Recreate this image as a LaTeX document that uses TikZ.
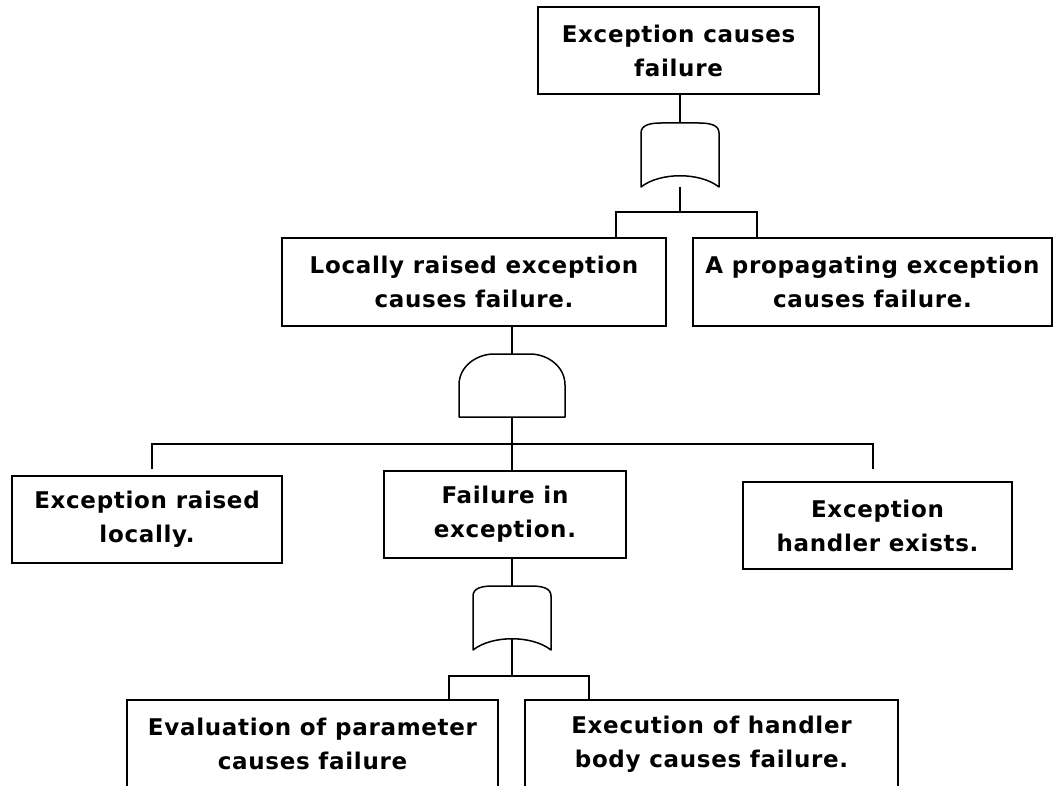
\documentclass[tikz,border=0pt]{standalone}
\usepackage{fontspec}
\setmainfont{DejaVu Sans}[LetterSpace=3]
\begin{document}
\begin{tikzpicture}[x=1pt,y=-1pt,
  box/.style={draw, line width=1.4pt, fill=white, align=center, inner sep=0pt,
              font=\fontsize{23}{34}\selectfont\bfseries},
  wire/.style={line width=1.4pt},
  gate/.style={draw, line width=1.5pt, fill=white, line join=round},
  orgate/.pic={
    \draw[gate] (-39,64) -- (-39,10) .. controls (-39,2) and (-30,0) .. (-19,0)
      -- (19,0) .. controls (30,0) and (39,2) .. (39,10) -- (39,64)
      .. controls (20,49) and (-20,49) .. (-39,64) -- cycle;
    \coordinate (-in) at (0,0);
    \coordinate (-out) at (0,53);
    \coordinate (-foot) at (0,64);
  },
  andgate/.pic={
    \draw[gate] (-53,63) -- (-53,31) .. controls (-53,12) and (-35,0) .. (-18,0)
      -- (18,0) .. controls (35,0) and (53,12) .. (53,31) -- (53,63) -- cycle;
    \coordinate (-in) at (0,0);
    \coordinate (-out) at (0,63);
  }]
\useasboundingbox[fill=white] (0,0) rectangle (1055,786);

% events
\node[box, minimum width=281pt, minimum height=87pt] (top) at (678.5,50.5) {Exception causes\\failure};
\node[box, minimum width=384pt, minimum height=88pt] (lr) at (474,282) {Locally raised exception\\causes failure.};
\node[box, minimum width=359pt, minimum height=88pt] (pr) at (872.5,282) {A propagating exception\\causes failure.};
\node[box, minimum width=270pt, minimum height=87pt] (rl) at (147,519.5) {Exception raised\\locally.};
\node[box, minimum width=242pt, minimum height=87pt] (fe) at (505,514.5) {Failure in\\exception.};
\node[box, minimum width=269pt, minimum height=87pt] (he) at (877.5,525.5) {Exception\\handler exists.};
\node[box, minimum width=371pt, minimum height=88pt] (ev) at (312.5,744) {Evaluation of parameter\\causes failure};
\node[box, minimum width=373pt, minimum height=88pt] (ex) at (711.5,744) {Execution of handler\\body causes failure.};

% gates
\pic (g1) at (680,123) {orgate};
\pic (g2) at (512,354) {andgate};
\pic (g3) at (512,586) {orgate};

% junctions
\coordinate (j0) at (680,212);
\coordinate (j1) at (616,212);
\coordinate (j2) at (757,212);
\coordinate (k0) at (512,444);
\coordinate (k1) at (152,444);
\coordinate (k2) at (873,444);
\coordinate (e1) at (152,469);
\coordinate (e3) at (873,469);
\coordinate (m0) at (512,676);
\coordinate (m1) at (449,676);
\coordinate (m2) at (589,676);

% connectors
\draw[wire] (g1-in |- top.south) -- (g1-in);
\draw[wire] (g1-foot) -- (j0);
\draw[wire] (lr.north -| j1) -- (j1) -- (j2) -- (pr.north -| j2);
\draw[wire] (g2-in |- lr.south) -- (g2-in);
\draw[wire] (g2-out) -- (k0);
\draw[wire] (e1) -- (k1) -- (k2) -- (e3);
\draw[wire] (k0) -- (fe.north -| k0);
\draw[wire] (g3-in |- fe.south) -- (g3-in);
\draw[wire] (g3-out) -- (m0);
\draw[wire] (ev.north -| m1) -- (m1) -- (m2) -- (ex.north -| m2);
\end{tikzpicture}
\end{document}
